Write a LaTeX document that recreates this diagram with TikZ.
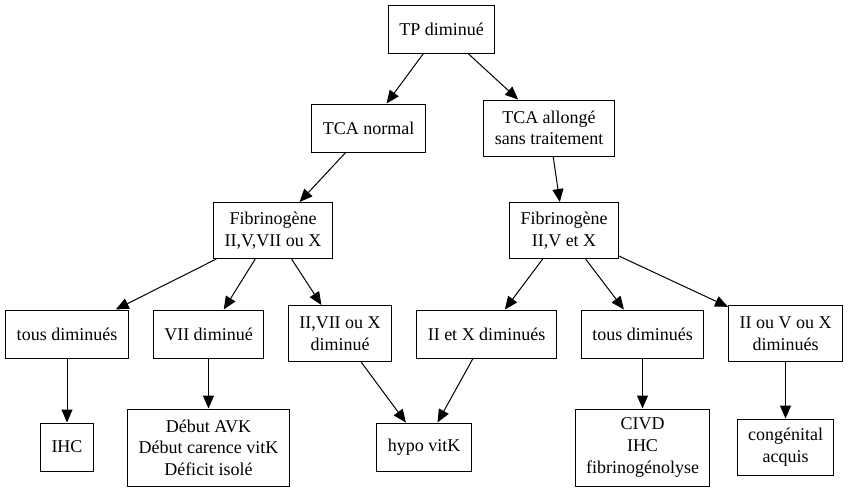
\documentclass[tikz,border=0pt]{standalone}
\usepackage{fontspec}
\setmainfont{Liberation Serif}
\usetikzlibrary{arrows.meta}
\tikzset{
    box/.style={draw, line width=1pt, align=center, minimum height=48pt, inner xsep=11pt, inner ysep=2pt, font=\rmfamily\fontsize{18}{21.6}\selectfont},
    box2/.style={box, minimum height=56pt},
    box3/.style={box, minimum height=77pt},
    edge/.style={line width=1pt, -{Triangle[length=13pt,width=11pt]}}
}
\begin{document}
\begin{tikzpicture}[x=1pt, y=-1pt]
        \useasboundingbox (0,0) rectangle (848,491);
        \node[box] (tp) at (441.5,29) {TP diminué};
        \node[box] (tcan) at (368.5,128) {TCA normal};
        \node[box2] (tcaa) at (549,128) {TCA allongé\\sans traitement};
        \node[box2] (fibl) at (273,230.5) {Fibrinogène\\II,V,VII ou X};
        \node[box2] (fibr) at (564,230.5) {Fibrinogène\\II,V et X};
        \node[box] (tousl) at (67,334) {tous diminués};
        \node[box] (vii) at (208.5,334) {VII diminué};
        \node[box2] (iivii) at (340,333.5) {II,VII ou X\\diminué};
        \node[box] (iix) at (486.5,334) {II et X diminués};
        \node[box] (tousr) at (642.5,334) {tous diminués};
        \node[box2] (iiv) at (785.5,333.5) {II ou V ou X\\diminués};
        \node[box] (ihc) at (67,447) {IHC};
        \node[box3] (debut) at (208.5,447.5) {Début AVK\\Début carence vitK\\Déficit isolé};
        \node[box] (hypo) at (424,447) {hypo vitK};
        \node[box3] (civd) at (642.5,447.5) {CIVD\\IHC\\fibrinogénolyse};
        \node[box2] (cong) at (785.5,447) {congénital\\acquis};
        \draw[edge] (tp) -- (tcan);
        \draw[edge] (tp) -- (tcaa);
        \draw[edge] (tcan) -- (fibl);
        \draw[edge] (tcaa) -- (fibr);
        \draw[edge] (fibl) -- (tousl);
        \draw[edge] (fibl) -- (vii);
        \draw[edge] (fibl) -- (iivii);
        \draw[edge] (fibr) -- (iix);
        \draw[edge] (fibr) -- (tousr);
        \draw[edge] (fibr) -- (iiv);
        \draw[edge] (tousl) -- (ihc);
        \draw[edge] (vii) -- (debut);
        \draw[edge] (iivii) -- (hypo);
        \draw[edge] (iix) -- (hypo);
        \draw[edge] (tousr) -- (civd);
        \draw[edge] (iiv) -- (cong);
    \end{tikzpicture}
\end{document}
